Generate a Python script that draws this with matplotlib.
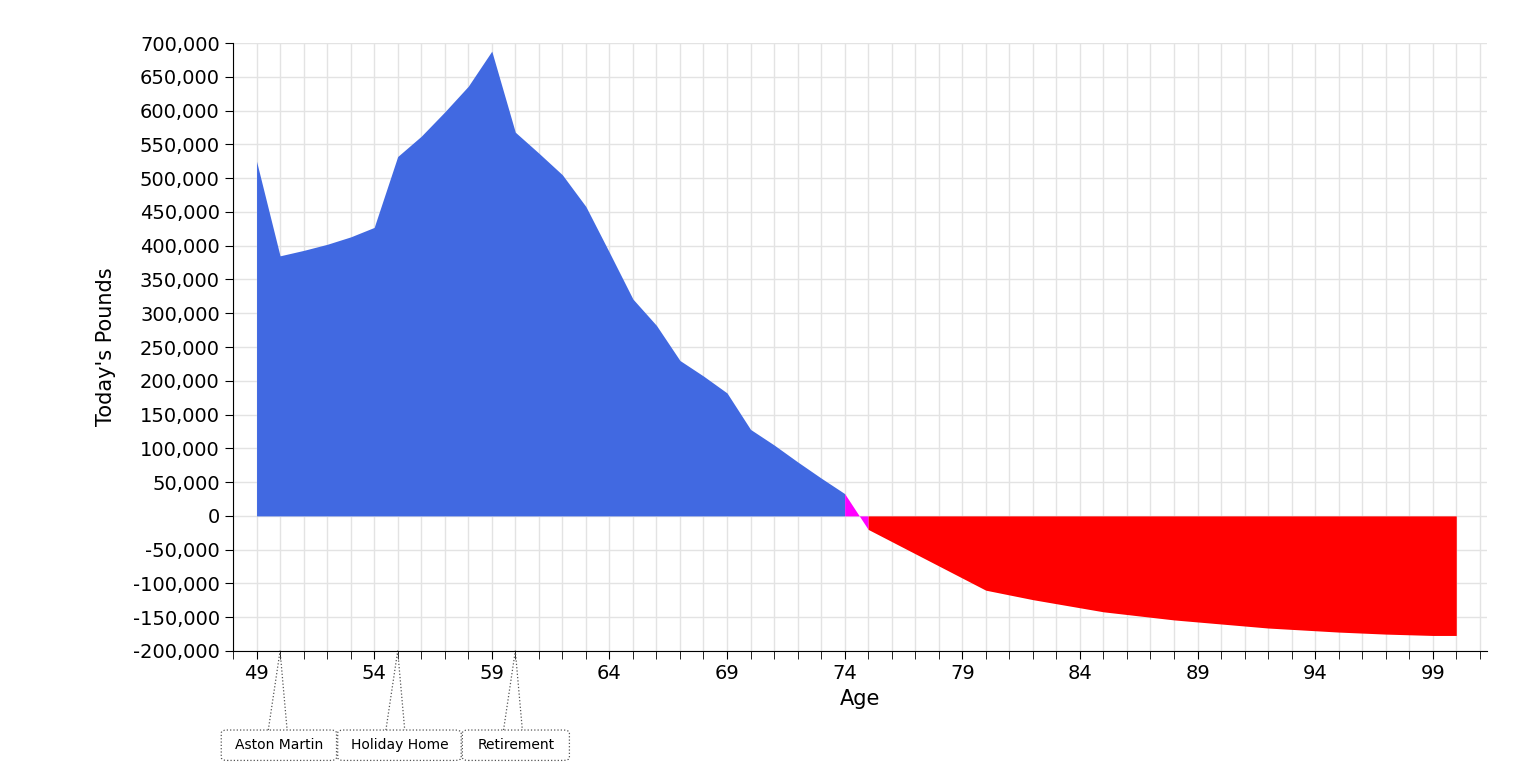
import matplotlib.pyplot as plt
import matplotlib.transforms as mtransforms
from matplotlib.patches import FancyBboxPatch
from matplotlib.ticker import FuncFormatter, MultipleLocator

# --- data ---
ages = list(range(49, 101))
pounds = [525000, 385000, 393000, 402000, 413000, 427000, 532000, 562000, 598000, 636000,
          688000, 568000, 537000, 505000, 458000, 390000, 321000, 282000, 230000, 207000,
          182000, 128000, 105000, 80000, 56000, 33000, -20000, -38000, -56000, -74000,
          -92000, -110000, -117000, -124000, -130000, -136000, -142000, -146000, -150000, -154000,
          -157000, -160000, -163000, -166000, -168000, -170000, -172000, -173500, -175000, -176000,
          -177000, -177000]
events = ["Aston Martin", "Holiday Home", "Retirement"]
event_ages = [50, 55, 60]
box_left = [47.5, 52.45, 57.75]
box_right = [52.4, 57.7, 62.3]

fig = plt.figure(figsize=(15.36, 7.63), dpi=100)
ax = fig.add_axes([0.1517, 0.1468, 0.8163, 0.7968])

i74 = ages.index(74)
i75 = ages.index(75)
ax.fill_between(ages[:i74 + 1], pounds[:i74 + 1], 0, color="#4169E1", lw=0)
ax.fill_between(ages[i74:i75 + 1], pounds[i74:i75 + 1], 0, color="#FF00FF", lw=0)
ax.fill_between(ages[i75:], pounds[i75:], 0, color="#FF0000", lw=0)

ax.set_xlim(48, 101.3)
ax.set_ylim(-200000, 700000)
ax.set_xticks(range(49, 101, 5))
ax.xaxis.set_minor_locator(MultipleLocator(1))
ax.yaxis.set_major_locator(MultipleLocator(50000))
ax.yaxis.set_major_formatter(FuncFormatter(lambda v, p: f"{int(v):,}"))
ax.grid(True, which="both", color="#e3e3e3", lw=1)
ax.set_axisbelow(True)
for s in ["top", "right"]:
    ax.spines[s].set_visible(False)
ax.tick_params(labelsize=14, length=6)
ax.tick_params(which="minor", length=6)
ax.set_xlabel("Age", fontsize=15)
ax.set_ylabel("Today's Pounds", fontsize=15, labelpad=12)

# callouts below the axis
tr = mtransforms.blended_transform_factory(ax.transData, ax.transAxes)
top, bot = -0.13, -0.18
for name, a, l, r in zip(events, event_ages, box_left, box_right):
    box = FancyBboxPatch((l, bot), r - l, top - bot, boxstyle="round,pad=0,rounding_size=0.25",
                         transform=tr, clip_on=False, fill=False, ls=":", lw=0.9, ec="#555555",
                         mutation_aspect=0.02)
    ax.add_patch(box)
    ax.plot([a - 0.5, a, a + 0.3], [top, 0, top], transform=tr, clip_on=False,
            ls=":", lw=0.9, color="#555555")
    ax.text((l + r) / 2, (top + bot) / 2, name, transform=tr, ha="center", va="center", fontsize=10)

fig.savefig("out.png")
